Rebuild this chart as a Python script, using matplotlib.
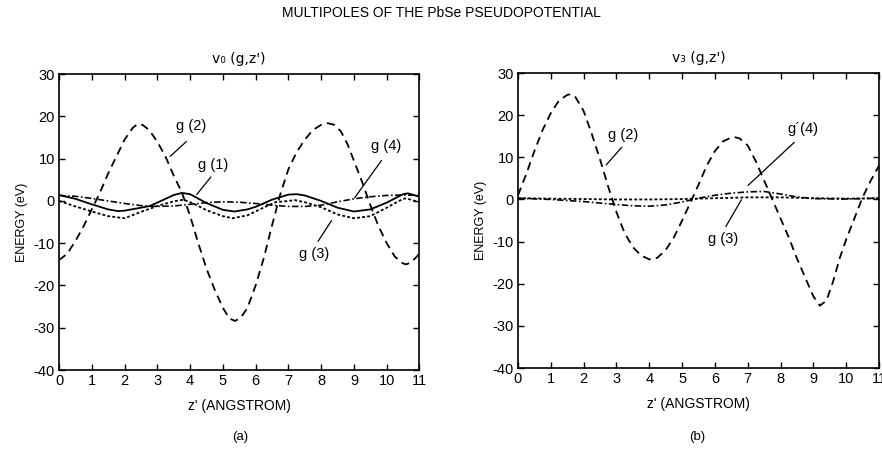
import matplotlib
matplotlib.use("Agg")
import matplotlib.pyplot as plt

plt.rcParams['font.family'] = ['Liberation Sans', 'DejaVu Sans']
plt.rcParams['axes.unicode_minus'] = False

# ---- panel (a): v0(g,z') ----
a_g2_x = [0, 0.25, 0.5, 0.75, 1.0, 1.25, 1.5, 1.75, 2.0, 2.25, 2.4, 2.55, 2.75, 3.0, 3.25, 3.5, 3.75,
          4.0, 4.25, 4.5, 4.75, 5.0, 5.2, 5.37, 5.55, 5.75, 6.0, 6.25, 6.5, 6.75, 7.0, 7.25, 7.5,
          7.75, 8.0, 8.2, 8.4, 8.6, 8.8, 9.0, 9.25, 9.5, 9.75, 10.0, 10.25, 10.5, 10.6, 10.75, 11.0]
a_g2_y = [-14, -12.5, -9.5, -6, -2, 2, 6.5, 10.5, 14.5, 17.3, 18.2, 18, 16.8, 14, 10.5, 6, 2,
          -3.5, -10, -16, -21, -25.3, -27.8, -28.4, -27.6, -25.3, -20, -13.5, -5.8, 1.5, 7.5, 11.5, 14.5,
          16.8, 18, 18.4, 18, 16.5, 13.5, 9.5, 4.5, -1, -6, -10, -13.2, -14.8, -15, -14.5, -12.5]

a_g1_x = [0, 0.5, 1.0, 1.5, 1.8, 2.0, 2.5, 2.77, 3.0, 3.5, 3.75, 4.0, 4.5, 5.0, 5.35, 5.75, 6.0,
          6.5, 7.0, 7.25, 7.5, 8.0, 8.5, 9.0, 9.5, 10.0, 10.5, 10.65, 11.0]
a_g1_y = [1.4, 0.5, -0.8, -2.0, -2.4, -2.3, -1.6, -1.2, -0.4, 1.4, 1.9, 1.6, -0.5, -2.1, -2.5, -2.0, -1.4,
          0.3, 1.5, 1.6, 1.3, 0.0, -1.6, -2.5, -2.0, -0.4, 1.6, 1.8, 1.0]

a_g3_x = [0, 0.5, 1.0, 1.5, 2.0, 2.5, 3.0, 3.5, 3.8, 4.1, 4.5, 5.0, 5.3, 5.75, 6.1, 6.6, 7.0,
          7.2, 7.5, 8.0, 8.5, 9.0, 9.5, 10.0, 10.5, 10.6, 11.0]
a_g3_y = [0.0, -1.3, -2.5, -3.6, -4.1, -2.6, -1.2, -0.1, 0.3, -0.6, -2.2, -3.6, -4.1, -3.4, -2.1, -0.3, 0.0,
          0.2, -0.3, -1.5, -3.2, -4.1, -3.6, -1.6, 0.5, 0.6, -0.3]

a_g4_x = [0, 0.5, 1.0, 1.5, 2.0, 2.5, 3.0, 3.5, 4.0, 4.5, 5.0, 5.5, 6.0, 6.5, 7.0, 7.5, 8.0,
          8.5, 9.0, 9.5, 10.0, 10.5, 11.0]
a_g4_y = [1.3, 1.1, 0.6, 0.0, -0.6, -1.1, -1.3, -1.2, -0.8, -0.4, -0.2, -0.3, -0.6, -1.0, -1.3, -1.3, -1.0,
          -0.2, 0.5, 1.0, 1.3, 1.4, 1.3]

# ---- panel (b): v3(g,z') ----
b_g2_x = [0, 0.25, 0.5, 0.75, 1.0, 1.25, 1.5, 1.6, 1.75, 2.0, 2.25, 2.5, 2.75, 3.0, 3.25, 3.5, 3.75,
          4.0, 4.1, 4.25, 4.5, 4.75, 5.0, 5.25, 5.5, 5.75, 6.0, 6.25, 6.5, 6.6, 6.75, 7.0, 7.25,
          7.5, 7.75, 8.0, 8.25, 8.5, 8.75, 9.0, 9.2, 9.4, 9.6, 9.8, 10.0, 10.25, 10.5, 10.75, 11.0]
b_g2_y = [1.0, 6, 11.5, 16.5, 20.5, 23.5, 24.8, 25, 24.3, 21, 15.5, 9.5, 3, -3, -8, -11.3, -13.3,
          -14.2, -14.3, -13.8, -12, -9, -5, -0.8, 3.5, 8, 11.5, 13.8, 14.7, 14.8, 14.5, 12.8, 9,
          4.5, 0, -4.5, -9, -14, -18.5, -23, -25.2, -24, -19.5, -14, -9.5, -4.5, 0.5, 4.5, 8]

b_g3_x = [0, 1, 2, 3, 4, 5, 6, 7, 8, 9, 10, 11]
b_g3_y = [0.3, 0.2, 0.1, 0.0, 0.0, 0.1, 0.3, 0.5, 0.5, 0.3, 0.2, 0.3]

b_g4_x = [0, 1, 2, 3, 3.5, 4, 4.5, 5, 5.5, 6, 6.5, 7, 7.5, 8, 8.5, 9, 10, 11]
b_g4_y = [0.3, 0.0, -0.5, -1.2, -1.5, -1.6, -1.3, -0.6, 0.3, 1.0, 1.5, 1.8, 1.9, 1.3, 0.6, 0.2, 0.1, 0.3]

xticks = list(range(0, 12))
yticks = [-40, -30, -20, -10, 0, 10, 20, 30]

fig = plt.figure(figsize=(8.82, 4.51), dpi=100)
ax1 = fig.add_axes([0.0669, 0.1796, 0.4087, 0.656])
ax2 = fig.add_axes([0.5873, 0.1840, 0.4093, 0.654])

lw = 1.3
ax1.plot(a_g2_x, a_g2_y, color='black', lw=lw, dashes=(4.5, 3))
ax1.plot(a_g1_x, a_g1_y, color='black', lw=lw)
ax1.plot(a_g3_x, a_g3_y, color='black', lw=lw, dashes=(1.6, 1.2))
ax1.plot(a_g4_x, a_g4_y, color='black', lw=lw * 0.9, dashes=(4, 1.5, 1, 1.5))

ax2.plot(b_g2_x, b_g2_y, color='black', lw=lw, dashes=(4.5, 3))
ax2.plot(b_g3_x, b_g3_y, color='black', lw=lw, dashes=(1.6, 1.2))
ax2.plot(b_g4_x, b_g4_y, color='black', lw=lw * 0.9, dashes=(4, 1.5, 1, 1.5))

for ax in (ax1, ax2):
    ax.set_xlim(0, 11)
    ax.set_ylim(-40, 30)
    ax.set_xticks(xticks)
    ax.set_yticks(yticks)
    ax.tick_params(direction='in', top=True, right=True, length=4, width=1,
                   labelsize=10.5, pad=3)
    for s in ax.spines.values():
        s.set_linewidth(1.2)
    ax.set_ylabel('ENERGY (eV)', fontsize=9, labelpad=4)
    ax.set_xlabel("z' (ANGSTROM)", fontsize=10, labelpad=8)

ax1.set_title("v\u2080 (g,z')", fontsize=10, pad=8, family=['DejaVu Sans'])
ax2.set_title("v\u2083 (g,z')", fontsize=10, pad=8, family=['DejaVu Sans'])

# curve labels with leader lines
def label(ax, text, txy, start, end):
    ax.text(txy[0], txy[1], text, fontsize=10.5, ha='center', va='center')
    ax.annotate('', xy=end, xytext=start,
                arrowprops=dict(arrowstyle='-', lw=0.9, color='black'))

label(ax1, 'g (2)', (4.04, 17.7), (3.95, 14.5), (3.33, 10.1))
label(ax1, 'g (1)', (4.70, 8.6), (4.69, 6.2), (4.15, 1.0))
label(ax1, 'g (4)', (9.99, 12.9), (9.89, 10.1), (8.97, 0.2))
label(ax1, 'g (3)', (7.80, -12.5), (7.86, -10.1), (8.36, -4.1))

label(ax2, 'g (2)', (3.19, 15.2), (3.22, 12.9), (2.63, 7.7))
label(ax2, 'g\u00b4(4)', (8.68, 16.8), (8.48, 14.0), (6.95, 2.9))
label(ax2, 'g (3)', (6.24, -9.4), (6.29, -7.0), (6.85, 0.5))

fig.text(0.5, 0.972, 'MULTIPOLES OF THE PbSe PSEUDOPOTENTIAL', ha='center', va='center', fontsize=10)
fig.text(0.272, 0.031, '(a)', ha='center', va='center', fontsize=9.5)
fig.text(0.790, 0.031, '(b)', ha='center', va='center', fontsize=9.5)

fig.savefig('out.png', dpi=100)
